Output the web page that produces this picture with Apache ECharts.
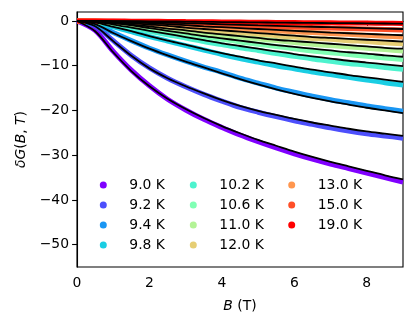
<!DOCTYPE html>
<html><head><meta charset="utf-8">
<script src="https://cdn.jsdelivr.net/npm/echarts@6/dist/echarts.min.js"></script>
<style>html,body{margin:0;padding:0;background:#fff}#c{width:416px;height:328px}</style>
</head><body><div id="c"></div>
<script>
const B = [0,0.5,1,1.5,2,2.5,3,3.5,4,4.5,5,5.5,6,6.5,7,7.5,8,8.5,9];
const temps = ['9.0 K','9.2 K','9.4 K','9.8 K','10.2 K','10.6 K','11.0 K','12.0 K','13.0 K','15.0 K','19.0 K'];
const colors = ['#8000ff','#4d4ffc','#1996f3','#1acee3','#4df3ce','#80ffb4','#b3f396','#e6ce74','#ff964f','#ff4f28','#ff0000'];

// measured data (coloured bands)
const d90  = [0,-2.1,-6.8,-11.0,-14.5,-17.5,-19.9,-22.0,-23.8,-25.5,-27.0,-28.4,-29.7,-30.9,-32.0,-33.0,-34.0,-35.0,-36.0];
const d92  = [0,-1.1,-4.4,-7.7,-10.5,-12.8,-14.7,-16.4,-17.9,-19.3,-20.4,-21.4,-22.3,-23.1,-23.9,-24.6,-25.2,-25.7,-26.2];
const d94  = [0,-0.7,-2.6,-4.4,-6.1,-7.6,-9.0,-10.3,-11.5,-12.8,-13.9,-15.0,-15.9,-16.8,-17.6,-18.3,-19.0,-19.6,-20.2];
const d98  = [0,-0.3,-1.3,-2.4,-3.5,-4.5,-5.5,-6.5,-7.5,-8.4,-9.2,-10.0,-10.7,-11.4,-12.0,-12.6,-13.2,-13.8,-14.3];
const d102 = [0,-0.2,-0.8,-1.5,-2.3,-3.1,-3.8,-4.6,-5.3,-6.0,-6.6,-7.3,-7.9,-8.5,-9.0,-9.5,-9.9,-10.4,-10.8];
const d106 = [0,-0.1,-0.5,-1.0,-1.7,-2.3,-2.9,-3.5,-4.1,-4.7,-5.2,-5.7,-6.2,-6.7,-7.1,-7.5,-7.9,-8.3,-8.6];
const d110 = [0,-0.1,-0.4,-0.8,-1.3,-1.8,-2.2,-2.7,-3.2,-3.6,-4.0,-4.4,-4.8,-5.2,-5.5,-5.8,-6.1,-6.4,-6.7];
const d120 = [0,-0.05,-0.25,-0.5,-0.9,-1.2,-1.6,-2.0,-2.3,-2.6,-2.9,-3.3,-3.6,-3.9,-4.1,-4.4,-4.6,-4.9,-5.1];
const d130 = [0,0,-0.15,-0.35,-0.55,-0.8,-1.0,-1.25,-1.5,-1.75,-2.0,-2.2,-2.4,-2.6,-2.8,-3.0,-3.2,-3.4,-3.6];
const d150 = [0,0,-0.08,-0.18,-0.3,-0.4,-0.55,-0.7,-0.85,-0.98,-1.1,-1.22,-1.35,-1.48,-1.6,-1.7,-1.8,-1.9,-2.0];
const d190 = [0,0,0,-0.05,-0.08,-0.1,-0.15,-0.18,-0.22,-0.26,-0.3,-0.33,-0.36,-0.39,-0.42,-0.45,-0.48,-0.52,-0.55];

// fitted curves (black)
const f90  = [0,-2.3,-7.0,-11.2,-14.6,-17.4,-19.7,-21.7,-23.5,-25.1,-26.6,-27.9,-29.2,-30.4,-31.5,-32.5,-33.5,-34.5,-35.4];
const f92  = [0,-1.2,-4.5,-7.8,-10.6,-12.8,-14.6,-16.2,-17.7,-19.0,-20.1,-21.0,-21.9,-22.7,-23.4,-24.1,-24.7,-25.2,-25.7];
const f94  = [0,-0.7,-2.7,-4.5,-6.2,-7.7,-9.1,-10.4,-11.7,-13.0,-14.2,-15.3,-16.3,-17.2,-18.0,-18.7,-19.4,-20.0,-20.6];
const f98  = [0,-0.3,-1.3,-2.3,-3.4,-4.4,-5.3,-6.3,-7.2,-8.0,-8.8,-9.5,-10.2,-10.9,-11.5,-12.1,-12.6,-13.1,-13.6];
const f102 = [0,-0.2,-0.8,-1.5,-2.2,-2.9,-3.6,-4.3,-5.0,-5.6,-6.2,-6.8,-7.4,-7.9,-8.4,-8.9,-9.3,-9.7,-10.1];
const f106 = [0,-0.1,-0.5,-1.0,-1.6,-2.2,-2.8,-3.4,-3.9,-4.4,-4.9,-5.4,-5.8,-6.2,-6.6,-7.0,-7.3,-7.7,-8.0];
const f110 = [0,-0.1,-0.4,-0.8,-1.2,-1.7,-2.1,-2.6,-3.0,-3.4,-3.8,-4.2,-4.5,-4.8,-5.1,-5.4,-5.7,-6.0,-6.2];
const f120 = [0,-0.05,-0.25,-0.5,-0.8,-1.1,-1.5,-1.8,-2.1,-2.4,-2.7,-3.0,-3.3,-3.6,-3.8,-4.0,-4.2,-4.4,-4.6];
const f130 = [0,0,-0.15,-0.3,-0.5,-0.7,-0.95,-1.2,-1.4,-1.6,-1.8,-2.0,-2.2,-2.4,-2.6,-2.75,-2.9,-3.05,-3.2];
const f150 = [0,0,-0.08,-0.15,-0.25,-0.35,-0.5,-0.62,-0.75,-0.88,-1.0,-1.1,-1.2,-1.3,-1.4,-1.5,-1.6,-1.7,-1.8];
const f190 = [0,0,-0.02,-0.05,-0.08,-0.1,-0.16,-0.2,-0.25,-0.29,-0.33,-0.37,-0.4,-0.44,-0.47,-0.5,-0.54,-0.57,-0.6];

const xTicks = [0,2,4,6,8];
const yTicks = [-50,-40,-30,-20,-10,0];

const dataSets = [d90,d92,d94,d98,d102,d106,d110,d120,d130,d150,d190];
const fitSets  = [f90,f92,f94,f98,f102,f106,f110,f120,f130,f150,f190];

const series = [];
dataSets.forEach((arr,i)=>{
  series.push({name:temps[i],type:'line',data:B.map((b,j)=>[b,arr[j]]),smooth:0.3,showSymbol:false,
    lineStyle:{width:5,color:colors[i]},itemStyle:{color:colors[i]},z:2,silent:true});
});
fitSets.forEach((arr,i)=>{
  series.push({name:'fit '+temps[i],type:'line',data:B.map((b,j)=>[b,arr[j]]),smooth:0.3,showSymbol:false,
    lineStyle:{width:1.8,color:'#000'},itemStyle:{color:'#000'},z:3,silent:true});
});

const font = 'DejaVu Sans';
const fs = 13.9;
const legendBase = (left, names) => ({
  orient:'vertical', left:left, top:177, padding:0, data:names, icon:'circle', itemWidth:7, itemHeight:7, itemGap:4,
  selectedMode:false,
  textStyle:{fontFamily:font,fontSize:fs,color:'#000',lineHeight:16,padding:[0,0,0,17.5]}
});
const minus = v => String(v).replace('-','\u2212');

const chart = echarts.init(document.getElementById('c'),null,{renderer:'canvas'});
chart.setOption({
  animation:false,
  backgroundColor:'#fff',
  grid:{left:77,right:13,top:12,bottom:61,show:true,borderColor:'#000',borderWidth:1.1,backgroundColor:'transparent'},
  legend:[
    legendBase(99.8, temps.slice(0,4)),
    legendBase(189.8, temps.slice(4,8)),
    legendBase(288.2, temps.slice(8,11))
  ],
  xAxis:{type:'value',min:0,max:9,
    axisLine:{show:true,lineStyle:{color:'#000',width:1.1}},
    axisTick:{show:true,inside:false,length:4.9,lineStyle:{color:'#000',width:1.1},customValues:xTicks},
    axisLabel:{fontFamily:font,fontSize:fs,color:'#000',margin:9,customValues:xTicks},
    splitLine:{show:false},
    name:'{i|B} (T)',nameLocation:'middle',nameGap:32,
    nameTextStyle:{fontFamily:font,fontSize:fs,color:'#000',rich:{i:{fontFamily:font,fontSize:fs,fontStyle:'italic',color:'#000'}}}
  },
  yAxis:{type:'value',min:-55,max:2,
    axisLine:{show:true,lineStyle:{color:'#000',width:1.1}},
    axisTick:{show:true,inside:false,length:4.9,lineStyle:{color:'#000',width:1.1},customValues:yTicks},
    axisLabel:{fontFamily:font,fontSize:fs,color:'#000',margin:8,customValues:yTicks,formatter:minus},
    splitLine:{show:false},
    name:'{i|\u03b4G}({i|B}, {i|T})',nameLocation:'middle',nameGap:47,nameRotate:90,
    nameTextStyle:{fontFamily:font,fontSize:fs,color:'#000',rich:{i:{fontFamily:font,fontSize:fs,fontStyle:'italic',color:'#000'}}}
  },
  series:series
});
</script>
</body></html>
